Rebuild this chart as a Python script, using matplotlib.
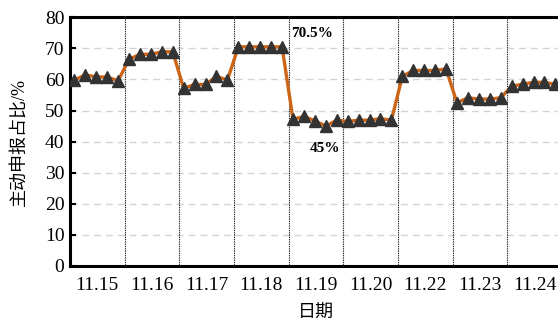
import numpy as np
import matplotlib.pyplot as plt

plt.rcParams['font.family'] = ['Liberation Serif', 'Noto Sans CJK SC']

# 日期与每日5个采样点的主动申报占比(%)
dias = ['11.15', '11.16', '11.17', '11.18', '11.19', '11.20', '11.22', '11.23', '11.24']
d1115 = [59.8, 61.5, 60.8, 60.8, 59.6]
d1116 = [66.5, 68.1, 68.1, 68.9, 68.9]
d1117 = [57.1, 58.4, 58.4, 61.0, 59.8]
d1118 = [70.5, 70.5, 70.5, 70.5, 70.5]
d1119 = [47.2, 48.1, 46.7, 45.0, 46.9]
d1120 = [46.5, 46.9, 46.9, 47.4, 46.9]
d1122 = [61.0, 62.9, 62.9, 62.9, 63.4]
d1123 = [52.5, 54.1, 53.7, 53.7, 54.1]
d1124 = [57.8, 58.5, 59.1, 59.1, 58.4]

valores = np.concatenate([d1115, d1116, d1117, d1118, d1119, d1120, d1122, d1123, d1124])
n_pontos = 5
x = np.arange(len(valores)) + 0.4

fig = plt.figure(figsize=(5.58, 3.23), dpi=100)
ax = fig.add_axes([0.1254, 0.1765, 0.8817, 0.7699])

# linhas de grade horizontais tracejadas
for yv in range(10, 80, 10):
    ax.axhline(yv, color='#d4d4d4', lw=1.0, ls=(0, (5, 3.5)), zorder=0)

# divisores verticais entre os dias
for k in range(1, len(dias)):
    ax.axvline(k * n_pontos, color='black', lw=0.8, ls=(0, (0.8, 0.8)), zorder=1)

ax.plot(x, valores, color='#CC6518', lw=2.4, zorder=2)
ax.plot(x, valores, ls='none', marker='^', ms=8, color='#333333', zorder=3)

ax.set_xlim(0, len(dias) * n_pontos)
ax.set_ylim(0, 80)
ax.set_yticks(range(0, 81, 10))
ax.set_xticks([(k + 0.5) * n_pontos for k in range(len(dias))])
ax.set_xticklabels(dias)
ax.tick_params(axis='y', direction='in', length=4, width=1.5, labelsize=14, pad=4)
ax.tick_params(axis='x', length=0, labelsize=14, pad=8)

for lado in ['left', 'bottom', 'top']:
    ax.spines[lado].set_linewidth(2.2)
ax.spines['right'].set_visible(False)

ax.set_xlabel('日期', fontsize=13, labelpad=8)
ax.set_ylabel('主动申报占比/%', fontsize=13, labelpad=12)

ax.text(22.1, 74.9, '70.5%', fontsize=11, fontweight='bold', ha='center', va='center')
ax.text(23.3, 37.9, '45%', fontsize=11, fontweight='bold', ha='center', va='center')

plt.savefig('out.png', dpi=100)
